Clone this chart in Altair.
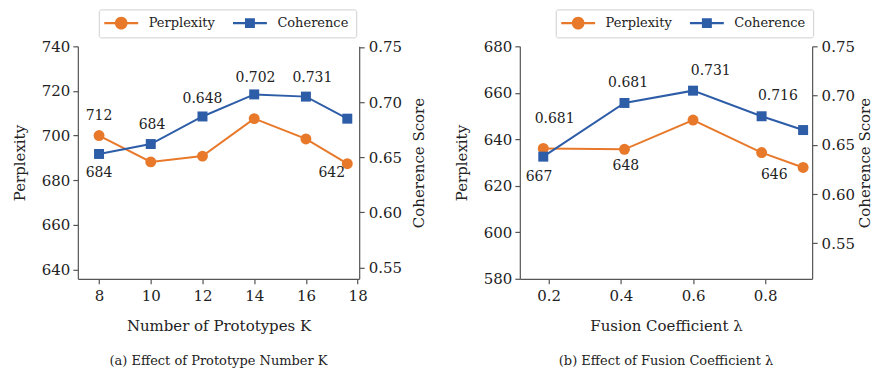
import altair as alt
import pandas as pd

# ---------------- data ----------------
series_names = ["Perplexity", "Coherence"]
series_colors = ["#E8792B", "#2E5DA8"]

# panel (a): number of prototypes K
k_values = [8, 10, 12, 14, 16, 17.6]
ppl_k = [700.0, 688.2, 690.8, 707.6, 698.5, 687.4]
coh_k = [0.653, 0.662, 0.687, 0.707, 0.705, 0.685]
labels_k_text = ["712", "684", "684", "0.648", "0.702", "0.731", "642"]
labels_k_x = [8.0, 8.0, 10.05, 12.0, 14.05, 16.25, 17.0]
labels_k_y = [708.8, 683.4, 704.9, 716.3, 725.9, 725.9, 683.1]

# panel (b): fusion coefficient lambda
lam_values = [0.185, 0.41, 0.6, 0.79, 0.905]
ppl_lam = [636.1, 635.7, 648.3, 634.3, 627.9]
coh_lam = [0.638, 0.6925, 0.705, 0.679, 0.665]
labels_lam_text = ["0.681", "667", "0.681", "648", "0.731", "0.716", "646"]
labels_lam_x = [0.2165, 0.173, 0.42, 0.414, 0.649, 0.835, 0.825]
labels_lam_y = [648.9, 623.7, 664.1, 628.5, 669.5, 658.7, 624.6]

k_ticks = [8, 10, 12, 14, 16, 18]
lam_ticks = [0.2, 0.4, 0.6, 0.8]
ppl_k_ticks = [640, 660, 680, 700, 720, 740]
ppl_lam_ticks = [580, 600, 620, 640, 660, 680]
coh_ticks = [0.55, 0.60, 0.65, 0.70, 0.75]

FONT = "DejaVu Serif"
TEXT = "#222222"
AXIS = "#555555"

# legend glyphs: a short line with the marker on it (unit = 6 px)
PATH_CIRCLE = ("M-2.83,-0.17H2.83V0.17H-2.83Z"
               "M1.05,0A1.05,1.05,0,1,1,-1.05,0A1.05,1.05,0,1,1,1.05,0Z")
PATH_SQUARE = ("M-2.83,-0.17H2.83V0.17H-2.83Z"
               "M-0.83,-0.83H0.83V0.83H-0.83Z")


def panel(xs, ppl, coh, lab_text, lab_x, lab_y, x_title, caption,
          x_domain, x_ticks, x_fmt, ppl_domain, ppl_ticks, coh_domain,
          width, legend_x, right_title_pad):
    df_p = pd.DataFrame({"x": xs, "value": ppl, "series": "Perplexity"})
    df_c = pd.DataFrame({"x": xs, "value": coh, "series": "Coherence"})
    df_l = pd.DataFrame({"x": lab_x, "value": lab_y, "text": lab_text})
    df_leg = pd.DataFrame({"x": [xs[0], xs[0]], "value": [ppl[0], ppl[0]],
                           "series": series_names})

    xenc = alt.X("x:Q",
                 scale=alt.Scale(domain=x_domain, nice=False, zero=False),
                 axis=alt.Axis(values=x_ticks, format=x_fmt, title=x_title,
                               labelPadding=5, titlePadding=15))
    cscale = alt.Scale(domain=series_names, range=series_colors)
    leg = alt.Legend(
        orient="none", legendX=legend_x, legendY=-37,
        direction="horizontal", title=None,
        strokeColor="#cfcfcf", cornerRadius=2, padding=7,
        labelFont=FONT, labelFontSize=13, labelColor=TEXT,
        symbolSize=144, symbolStrokeWidth=0, symbolOpacity=1,
        symbolOffset=9, labelOffset=21, columnPadding=17)
    color = alt.Color("series:N", scale=cscale, legend=leg)
    shape_leg = alt.Shape("series:N",
                          scale=alt.Scale(domain=series_names,
                                          range=[PATH_CIRCLE, PATH_SQUARE]),
                          legend=leg)

    y_left = alt.Y("value:Q",
                   scale=alt.Scale(domain=ppl_domain, nice=False, zero=False),
                   axis=alt.Axis(values=ppl_ticks, title="Perplexity",
                                 labelPadding=3, titlePadding=14))
    y_right = alt.Y("value:Q",
                    scale=alt.Scale(domain=coh_domain, nice=False, zero=False),
                    axis=alt.Axis(values=coh_ticks, format=".2f", orient="right",
                                  title="Coherence Score", titleAngle=270,
                                  titleBaseline="top",
                                  labelPadding=4, titlePadding=right_title_pad))

    ppl_line = alt.Chart(df_p).mark_line(strokeWidth=2).encode(
        x=xenc, y=y_left, color=color)
    ppl_pts = alt.Chart(df_p).mark_point(filled=True, shape="circle", size=120,
                                         opacity=1).encode(
        x=xenc, y=y_left, color=color)
    labels = alt.Chart(df_l).mark_text(font=FONT, fontSize=14, color=TEXT,
                                       baseline="middle", align="center").encode(
        x=xenc, y=y_left, text="text:N")
    legend_layer = alt.Chart(df_leg).mark_point(filled=True, opacity=0).encode(
        x=xenc, y=y_left, color=color, shape=shape_leg)
    left = alt.layer(ppl_line, ppl_pts, labels, legend_layer)

    coh_line = alt.Chart(df_c).mark_line(strokeWidth=2).encode(
        x=xenc, y=y_right, color=color)
    coh_pts = alt.Chart(df_c).mark_point(filled=True, shape="square", size=100,
                                         opacity=1).encode(
        x=xenc, y=y_right, color=color)
    right = alt.layer(coh_line, coh_pts)

    return alt.layer(left, right).resolve_scale(y="independent").properties(
        width=width, height=233,
        title=alt.TitleParams(caption, orient="bottom", font=FONT, fontSize=13,
                              fontWeight="normal", color=TEXT, offset=21))


pa = panel(k_values, ppl_k, coh_k, labels_k_text, labels_k_x, labels_k_y,
           "Number of Prototypes K", "(a) Effect of Prototype Number K",
           [7.18, 18.06], k_ticks, "d", [635.8, 740], ppl_k_ticks, [0.5398, 0.7506],
           282, 21, 10)
pb = panel(lam_values, ppl_lam, coh_lam, labels_lam_text, labels_lam_x, labels_lam_y,
           "Fusion Coefficient λ", "(b) Effect of Fusion Coefficient λ",
           [0.12, 0.93], lam_ticks, ".1f", [580, 680], ppl_lam_ticks, [0.514, 0.75],
           293, 36, 3)

chart = alt.hconcat(pa, pb, spacing=26).resolve_scale(
    color="independent", shape="independent").resolve_legend(
    color="independent", shape="independent").properties(
    padding={"left": 3, "top": 0, "right": 0, "bottom": 0}
).configure(background="white").configure_view(stroke="transparent").configure_axis(
    grid=False, domainColor=AXIS, tickColor=AXIS, domainWidth=1.2, tickWidth=1.2,
    tickSize=5, labelFont=FONT, labelFontSize=15, labelColor=TEXT,
    titleFont=FONT, titleFontSize=15, titleFontWeight="normal", titleColor=TEXT
)

chart.save("out.html", embed_options={"renderer": "svg", "actions": False})
